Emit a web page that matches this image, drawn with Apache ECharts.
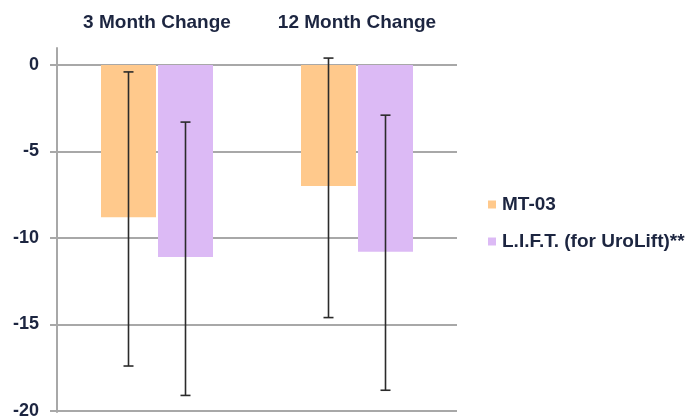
<!DOCTYPE html>
<html>
<head>
<meta charset="utf-8">
<script src="https://cdn.jsdelivr.net/npm/echarts@6/dist/echarts.min.js"></script>
<style>
  html, body { margin: 0; padding: 0; background: #fff; }
  #chart { width: 699px; height: 420px; }
</style>
</head>
<body>
<div id="chart"></div>
<script>
// Change from baseline, mean with error range
const categories = ['3 Month Change', '12 Month Change'];
const seriesNames = ['MT-03', 'L.I.F.T. (for UroLift)**'];
const mt03Values = [-8.8, -7.0];
const liftValues = [-11.1, -10.8];
const mt03Low = [-17.4, -14.6];
const mt03High = [-0.4, 0.4];
const liftLow = [-19.1, -18.8];
const liftHigh = [-3.3, -2.9];
const yTicks = [-20, -15, -10, -5, 0];

const colors = ['#FFC98C', '#DCBAF5'];
const textColor = '#1C2540';
const gridColor = '#A8A8A8';
const barWidth = 55;
const barGapPx = 2;

const chart = echarts.init(document.getElementById('chart'));

// error bar drawn at a bar's centre; side -1 = first bar, +1 = second bar
function errorBar(lows, highs, side) {
  return {
    type: 'custom',
    xAxisIndex: 0,
    yAxisIndex: 0,
    z: 5,
    data: categories.map((c, i) => [i, lows[i], highs[i]]),
    renderItem: function (params, api) {
      const idx = api.value(0);
      const lo = api.coord([idx, api.value(1)]);
      const hi = api.coord([idx, api.value(2)]);
      const x = lo[0] + side * (barWidth + barGapPx) / 2;
      const cap = 5;
      const style = { stroke: '#2B2B2B', lineWidth: 1.6 };
      return {
        type: 'group',
        children: [
          { type: 'line', shape: { x1: x, y1: hi[1], x2: x, y2: lo[1] }, style: style },
          { type: 'line', shape: { x1: x - cap, y1: hi[1], x2: x + cap, y2: hi[1] }, style: style },
          { type: 'line', shape: { x1: x - cap, y1: lo[1], x2: x + cap, y2: lo[1] }, style: style }
        ]
      };
    }
  };
}

chart.setOption({
  animation: false,
  textStyle: { fontFamily: '"Liberation Sans", Arial, sans-serif' },
  grid: [
    { left: 57, right: 242, top: 65, bottom: 8 },
    { left: 57, right: 242, top: 48, bottom: 8 }
  ],
  legend: {
    orient: 'vertical',
    left: 483,
    top: 190,
    itemWidth: 8,
    itemHeight: 8,
    itemGap: 18,
    icon: 'rect',
    data: seriesNames,
    textStyle: { color: textColor, fontSize: 19, fontWeight: 'bold', padding: [0, 0, 0, 1] }
  },
  xAxis: [
    {
      type: 'category',
      gridIndex: 0,
      position: 'top',
      data: categories,
      axisLine: { show: false },
      axisTick: { show: false },
      axisLabel: {
        interval: 0,
        hideOverlap: false,
        color: textColor,
        fontSize: 19,
        fontWeight: 'bold',
        margin: 33
      }
    },
    { type: 'category', gridIndex: 1, data: categories, show: false }
  ],
  yAxis: [
    {
      type: 'value',
      gridIndex: 0,
      min: yTicks[0],
      max: yTicks[yTicks.length - 1],
      interval: 5,
      axisLine: { show: false },
      axisTick: { show: true, length: 7, lineStyle: { color: gridColor, width: 2 } },
      axisLabel: {
        color: textColor,
        fontSize: 18,
        fontWeight: 'bold',
        margin: 18
      },
      splitLine: { show: true, lineStyle: { color: gridColor, width: 2 } }
    },
    {
      // vertical axis line, reaching a little above zero
      type: 'value',
      gridIndex: 1,
      min: -20,
      max: 1,
      axisLine: { show: true, lineStyle: { color: gridColor, width: 2 } },
      axisTick: { show: false },
      axisLabel: { show: false },
      splitLine: { show: false }
    }
  ],
  series: [
    {
      name: seriesNames[0],
      type: 'bar',
      data: mt03Values,
      barWidth: barWidth,
      barGap: (barGapPx / barWidth * 100) + '%',
      itemStyle: { color: colors[0] }
    },
    {
      name: seriesNames[1],
      type: 'bar',
      data: liftValues,
      barWidth: barWidth,
      itemStyle: { color: colors[1] }
    },
    errorBar(mt03Low, mt03High, -1),
    errorBar(liftLow, liftHigh, 1)
  ]
});
</script>
</body>
</html>
